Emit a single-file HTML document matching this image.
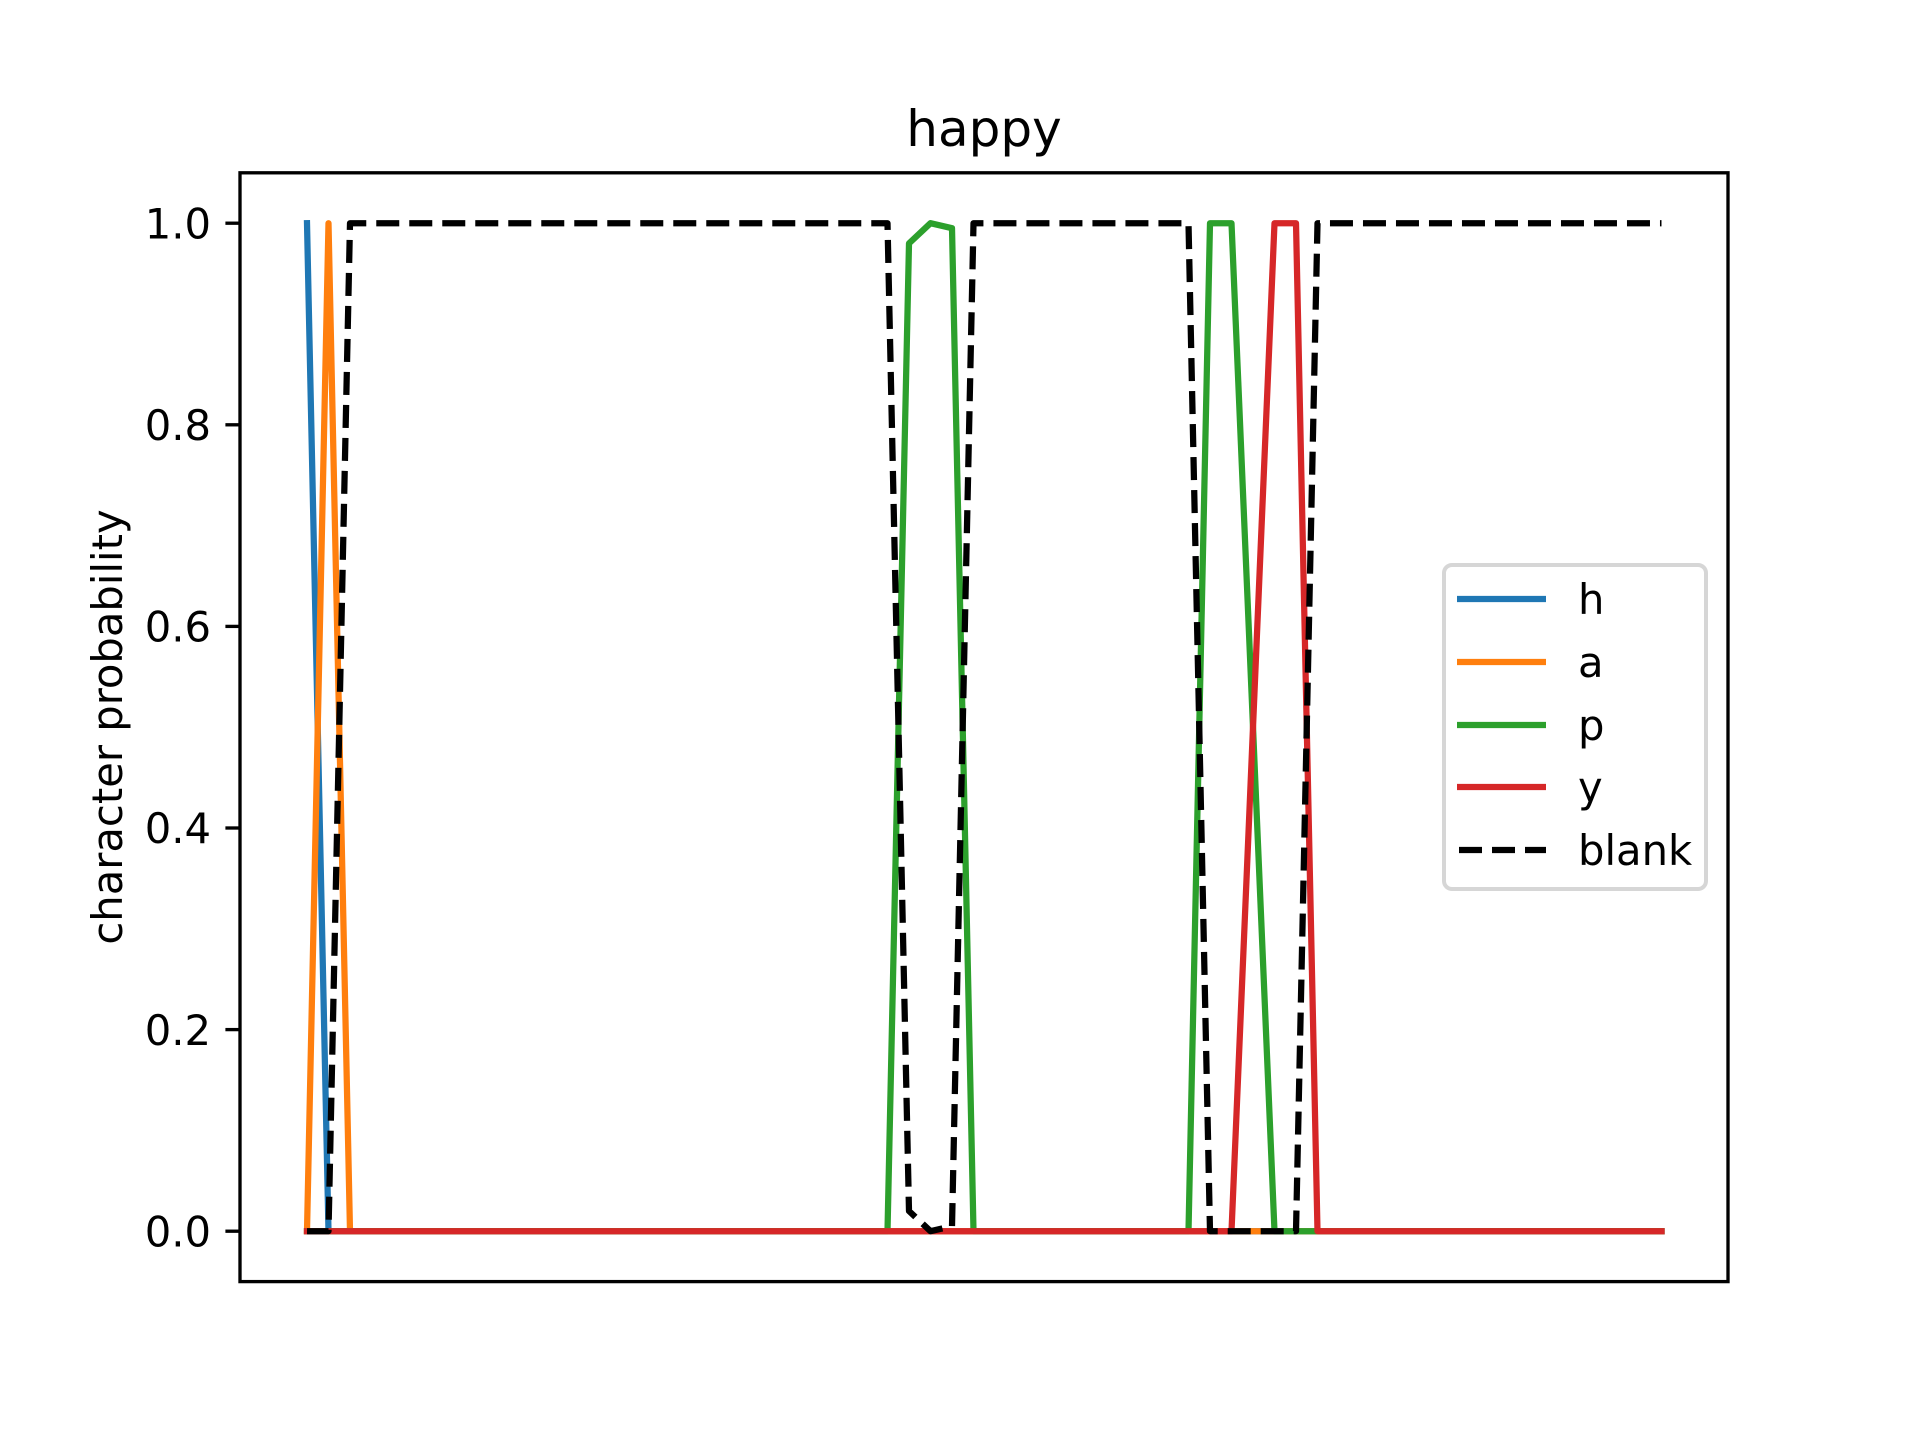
<!DOCTYPE html>
<html><head><meta charset="utf-8"><style>html,body{margin:0;padding:0;background:#fff}svg{display:block}</style></head>
<body>
<svg width="1920" height="1440" viewBox="0 0 1920 1440" xmlns="http://www.w3.org/2000/svg" font-family="DejaVu Sans, Liberation Sans, sans-serif">
<rect width="1920" height="1440" fill="#fff"/>
<g fill="none" stroke-width="6.25" stroke-linejoin="round">
<polyline stroke="#1f77b4" stroke-linecap="square" points="307,223.2 328.5,1231.2 1661.5,1231.2"/>
<polyline stroke="#ff7f0e" stroke-linecap="square" points="307,1231.2 328.5,223.2 350,1231.2 1661.5,1231.2"/>
<polyline stroke="#2ca02c" stroke-linecap="square" points="307,1231.2 887.5,1231.2 909,243.4 930.5,223.2 952,228.2 973.5,1231.2 1188.5,1231.2 1210,223.2 1231.5,223.2 1274.5,1231.2 1661.5,1231.2"/>
<polyline stroke="#d62728" stroke-linecap="square" points="307,1231.2 1231.5,1231.2 1274.5,223.2 1296,223.2 1317.5,1231.2 1661.5,1231.2"/>
<polyline stroke="#000" stroke-dasharray="23,10" stroke-linecap="butt" points="307,1231.2 328.5,1231.2 350,223.2 887.5,223.2 909,1211 930.5,1231.2 952,1226.2 973.5,223.2 1188.5,223.2 1210,1231.2 1296,1231.2 1317.5,223.2 1661.5,223.2"/>
</g>
<rect x="240" y="172.8" width="1488" height="1108.8" fill="none" stroke="#000" stroke-width="3.33"/>
<g stroke="#000" stroke-width="3.33">
<line x1="225.4" y1="1231.2" x2="240" y2="1231.2"/>
<line x1="225.4" y1="1029.6" x2="240" y2="1029.6"/>
<line x1="225.4" y1="828" x2="240" y2="828"/>
<line x1="225.4" y1="626.4" x2="240" y2="626.4"/>
<line x1="225.4" y1="424.8" x2="240" y2="424.8"/>
<line x1="225.4" y1="223.2" x2="240" y2="223.2"/>
</g>
<g font-size="41.7" text-anchor="end" fill="#000">
<text x="211" y="1246.4">0.0</text>
<text x="211" y="1044.8">0.2</text>
<text x="211" y="843.2">0.4</text>
<text x="211" y="641.6">0.6</text>
<text x="211" y="440">0.8</text>
<text x="211" y="238.4">1.0</text>
</g>
<text x="984" y="146" font-size="50" text-anchor="middle">happy</text>
<text transform="translate(122,727) rotate(-90)" font-size="41.7" text-anchor="middle">character probability</text>
<rect x="1444" y="565" width="262" height="324" rx="8" ry="8" fill="#fff" fill-opacity="0.8" stroke="#d6d6d6" stroke-width="4"/>
<g stroke-width="6.25" fill="none">
<line x1="1457" y1="599" x2="1546" y2="599" stroke="#1f77b4"/>
<line x1="1457" y1="662" x2="1546" y2="662" stroke="#ff7f0e"/>
<line x1="1457" y1="725" x2="1546" y2="725" stroke="#2ca02c"/>
<line x1="1457" y1="787" x2="1546" y2="787" stroke="#d62728"/>
<line x1="1459" y1="850" x2="1546" y2="850" stroke="#000" stroke-dasharray="23,10"/>
</g>
<g font-size="41.7" fill="#000">
<text x="1578" y="614">h</text>
<text x="1578" y="677">a</text>
<text x="1578" y="740">p</text>
<text x="1578" y="802">y</text>
<text x="1578" y="865">blank</text>
</g>
</svg>
</body></html>
